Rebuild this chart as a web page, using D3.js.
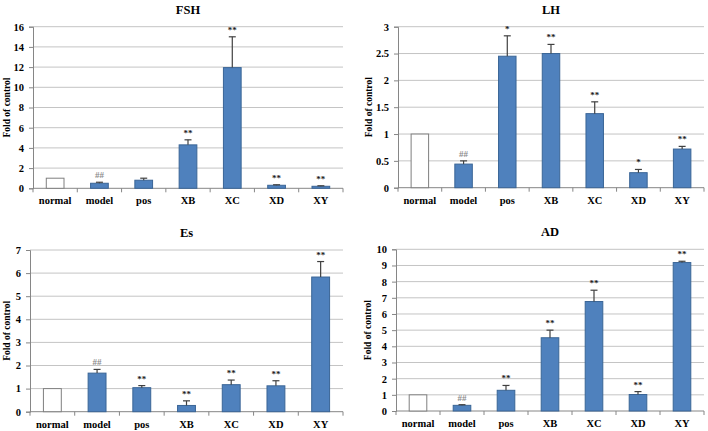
<!DOCTYPE html>
<html>
<head>
<meta charset="utf-8">
<script src="https://cdn.jsdelivr.net/npm/d3@7"></script>
<style>
  body { margin: 0; background: #fff; }
  svg { display: block; }
  text { font-family: "Liberation Serif", "Times New Roman", serif; font-weight: bold; }
</style>
</head>
<body>
<svg id="chart" width="708" height="431"></svg>
<script>
// categories shared by all panels
var groups = ['normal', 'model', 'pos', 'XB', 'XC', 'XD', 'XY'];

// FSH
var fshMean = [1, 0.5, 0.8, 4.3, 11.95, 0.3, 0.2];
var fshErr  = [0, 0.1, 0.2, 0.5, 3.05, 0.05, 0.05];
var fshSig  = ['', '##', '', '**', '**', '**', '**'];

// LH
var lhMean = [1, 0.44, 2.45, 2.5, 1.38, 0.28, 0.72];
var lhErr  = [0, 0.06, 0.38, 0.17, 0.22, 0.06, 0.05];
var lhSig  = ['', '##', '*', '**', '**', '*', '**'];

// Es
var esMean = [1, 1.67, 1.04, 0.27, 1.17, 1.12, 5.83];
var esErr  = [0, 0.16, 0.09, 0.2, 0.2, 0.22, 0.67];
var esSig  = ['', '##', '**', '**', '**', '**', '**'];

// AD
var adMean = [1, 0.35, 1.28, 4.53, 6.77, 1.02, 9.18];
var adErr  = [0, 0.04, 0.3, 0.47, 0.7, 0.18, 0.08];
var adSig  = ['', '##', '**', '**', '**', '**', '**'];

var yTicksFsh = [0, 2, 4, 6, 8, 10, 12, 14, 16];
var yTicksLh  = [0, 0.5, 1, 1.5, 2, 2.5, 3];
var yTicksEs  = [0, 1, 2, 3, 4, 5, 6, 7];
var yTicksAd  = [0, 1, 2, 3, 4, 5, 6, 7, 8, 9, 10];

var panels = [
  {title: 'FSH', mean: fshMean, err: fshErr, sig: fshSig, ticks: yTicksFsh, x0: 33, x1: 343, top: 26.7, bottom: 188.3, lx: 7},
  {title: 'LH',  mean: lhMean,  err: lhErr,  sig: lhSig,  ticks: yTicksLh,  x0: 398, x1: 704, top: 26.7, bottom: 187.7, lx: 369},
  {title: 'Es',  mean: esMean,  err: esErr,  sig: esSig,  ticks: yTicksEs,  x0: 30, x1: 343, top: 250, bottom: 411.7, lx: 7},
  {title: 'AD',  mean: adMean,  err: adErr,  sig: adSig,  ticks: yTicksAd,  x0: 396, x1: 704, top: 249.3, bottom: 411, lx: 368}
];

var svg = d3.select('#chart');

panels.forEach(function (p) {
  var g = svg.append('g');

  var x = d3.scaleBand().domain(groups).range([p.x0, p.x1]).paddingInner(0.6).paddingOuter(0.3);
  var y = d3.scaleLinear().domain([0, d3.max(p.ticks)]).range([p.bottom, p.top]);

  // gridlines
  g.append('g').selectAll('line').data(p.ticks.slice(1)).join('line')
    .attr('x1', p.x0).attr('x2', p.x1)
    .attr('y1', function (d) { return y(d); }).attr('y2', function (d) { return y(d); })
    .attr('stroke', '#c4c4c4').attr('stroke-width', 1);

  // y axis
  var ya = g.append('g').attr('transform', 'translate(' + p.x0 + ',0)')
    .call(d3.axisLeft(y).tickValues(p.ticks).tickSize(4).tickPadding(5).tickFormat(d3.format('')));
  ya.select('.domain').attr('stroke', '#868686');
  ya.selectAll('.tick line').attr('stroke', '#868686');
  ya.selectAll('text').attr('font-size', 10.5).attr('fill', '#000')
    .style('font-family', '"Liberation Serif", serif').style('font-weight', 'bold');

  // x axis line + ticks between categories
  var bounds = d3.range(groups.length + 1).map(function (i) { return p.x0 + i * (p.x1 - p.x0) / groups.length; });
  g.append('line').attr('x1', p.x0).attr('x2', p.x1).attr('y1', p.bottom).attr('y2', p.bottom)
    .attr('stroke', '#868686');
  g.append('g').selectAll('line').data(bounds).join('line')
    .attr('x1', function (d) { return d; }).attr('x2', function (d) { return d; })
    .attr('y1', p.bottom).attr('y2', p.bottom + 4).attr('stroke', '#868686');

  g.append('g').selectAll('text').data(groups).join('text')
    .attr('x', function (d) { return x(d) + x.bandwidth() / 2; })
    .attr('y', p.bottom + 16)
    .attr('text-anchor', 'middle').attr('font-size', 10.5)
    .text(function (d) { return d; });

  // bars
  g.append('g').selectAll('rect').data(groups).join('rect')
    .attr('x', function (d) { return x(d); })
    .attr('y', function (d, i) { return y(p.mean[i]); })
    .attr('width', x.bandwidth())
    .attr('height', function (d, i) { return y(0) - y(p.mean[i]); })
    .attr('fill', function (d, i) { return i === 0 ? '#ffffff' : '#4f81bd'; })
    .attr('stroke', function (d, i) { return i === 0 ? '#7f7f7f' : '#3a6596'; })
    .attr('stroke-width', 1);

  // error bars (upper only)
  var eb = g.append('g').selectAll('g').data(groups).join('g')
    .filter(function (d, i) { return p.err[i] > 0; });
  eb.append('line')
    .attr('x1', function (d) { return x(d) + x.bandwidth() / 2; })
    .attr('x2', function (d) { return x(d) + x.bandwidth() / 2; })
    .attr('y1', function (d) { return y(p.mean[groups.indexOf(d)]); })
    .attr('y2', function (d) { var i = groups.indexOf(d); return y(p.mean[i] + p.err[i]); })
    .attr('stroke', '#404040').attr('stroke-width', 1.2);
  eb.append('line')
    .attr('x1', function (d) { return x(d) + x.bandwidth() / 2 - 3.5; })
    .attr('x2', function (d) { return x(d) + x.bandwidth() / 2 + 3.5; })
    .attr('y1', function (d) { var i = groups.indexOf(d); return y(p.mean[i] + p.err[i]); })
    .attr('y2', function (d) { var i = groups.indexOf(d); return y(p.mean[i] + p.err[i]); })
    .attr('stroke', '#404040').attr('stroke-width', 1.2);

  // significance marks
  g.append('g').selectAll('text').data(groups).join('text')
    .attr('x', function (d) { return x(d) + x.bandwidth() / 2; })
    .attr('y', function (d, i) { return y(p.mean[i] + p.err[i]) - 4; })
    .attr('text-anchor', 'middle').attr('font-size', 9)
    .attr('fill', function (d, i) { return p.sig[i] === '##' ? '#8c8c8c' : '#1a1a1a'; })
    .text(function (d, i) { return p.sig[i]; });

  // title
  g.append('text').attr('x', (p.x0 + p.x1) / 2).attr('y', p.top - 13)
    .attr('text-anchor', 'middle').attr('font-size', 12.5).text(p.title);

  // y label, centred on p.lx
  var ly = (p.top + p.bottom) / 2;
  g.append('text').attr('transform', 'translate(' + p.lx + ',' + ly + ') rotate(-90)')
    .attr('text-anchor', 'middle').attr('dy', '0.35em').attr('font-size', 9.5).text('Fold of control');
});
</script>
</body>
</html>
